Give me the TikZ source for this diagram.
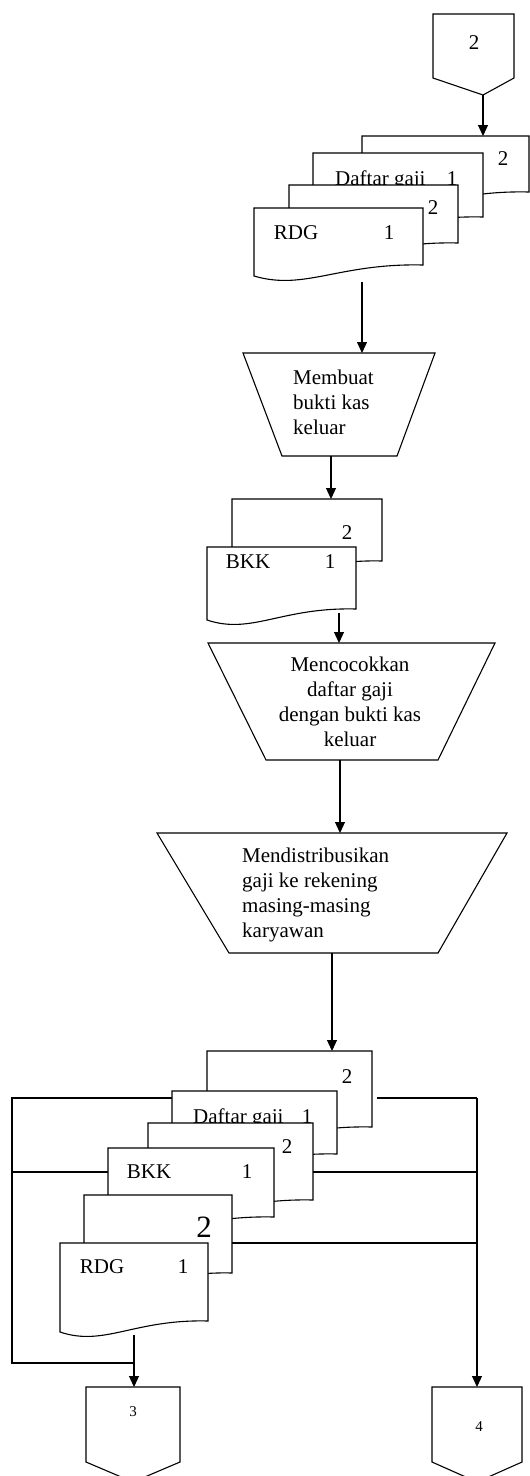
\documentclass[tikz,border=0pt]{standalone}
\usepackage{fontspec}
\setmainfont{Liberation Serif}
\usetikzlibrary{calc,arrows.meta}

\tikzset{
  flowline/.style={line width=1.1pt},
  flowarrow/.style={line width=1.1pt,-{Triangle[length=11pt,width=10pt]}},
  frame/.style={rectangle, inner sep=0pt, outer sep=0pt, draw=none},
  outline/.style={line width=1.1pt, fill=white, draw=black, line join=miter},
  txt/.style={inner sep=0pt, font=\fontsize{21}{25}\selectfont},
  bigtxt/.style={inner sep=0pt, font=\fontsize{31}{36}\selectfont},
  smalltxt/.style={inner sep=0pt, font=\fontsize{15}{18}\selectfont},
}

% document sheet with a wavy lower edge: name, left, top, width, height
\newcommand\docsheet[5]{%
  \node[frame, minimum width=#4pt, minimum height=#5pt, anchor=north west] (#1) at (#2,#3) {};
  \filldraw[outline] (#1.north west) -- (#1.north east) -- (#1.south east)
    .. controls ($(#1.south east)+(-0.5*#4,-2)$) and ($(#1.south west)+(0.3*#4,26)$)
    .. ($(#1.south west)+(0,11)$) -- cycle;
}

% manual operation (trapezium, wide side up): name, centre x, top, top width, height, left inset, right inset
\newcommand\manualop[7]{%
  \node[frame, minimum width=#4pt, minimum height=#5pt, anchor=north] (#1) at (#2,#3) {};
  \filldraw[outline] (#1.north west) -- (#1.north east) -- ($(#1.south east)+(-#7,0)$)
    -- ($(#1.south west)+(#6,0)$) -- cycle;
}

% off-page connector: name, left, top, width, side height, tip offset x, tip depth
\newcommand\offpage[7]{%
  \node[frame, minimum width=#4pt, minimum height=#5pt, anchor=north west] (#1) at (#2,#3) {};
  \coordinate (#1tip) at ($(#1.south)+(#6,#7)$);
  \filldraw[outline] (#1.south west) -- (#1.north west) -- (#1.north east) -- (#1.south east)
    -- (#1tip) -- cycle;
}

\begin{document}
\begin{tikzpicture}[x=1pt,y=-1pt]
\clip (0,0) rectangle (530,1476);
\fill[white] (0,0) rectangle (530,1476);

% incoming connector
\offpage{cin}{433}{14}{81}{64}{9.5}{17}
\node[txt] (cinlbl) at (474,43) {2};

% first stack: daftar gaji and RDG
\docsheet{docA}{362}{136}{167}{56}
\node[txt] (docAlbl) at (503,159) {2};
\docsheet{docB}{313}{153}{170}{64}
\node[txt, anchor=base west] (docBlbl) at (335,185) {Daftar gaji};
\node[txt, anchor=base] (docBnum) at (452,185) {1};
\docsheet{docC}{289}{185}{169}{58}
\node[txt] (docClbl) at (433,208) {2};
\docsheet{docD}{254}{208}{169}{57}
\node[txt] (docDlbl) at (296,233) {RDG};
\node[txt] (docDnum) at (389,233) {1};

\draw[flowarrow] (cintip) -- (cintip |- docA.north);

% make cash voucher
\manualop{opA}{339}{353}{192}{103}{39}{38}
\node[txt, anchor=west, align=left] (opAtxt) at (293,402) {Membuat\\bukti kas\\keluar};
\coordinate (jA) at (362,282);
\draw[flowarrow] (jA) -- (jA |- opA.north);

% BKK stack
\docsheet{docE}{232}{499}{150}{62}
\node[txt] (docElbl) at (347,533) {2};
\docsheet{docF}{207}{547}{149}{62}
\node[txt] (docFlbl) at (248,562) {BKK};
\node[txt] (docFnum) at (330,562) {1};
\coordinate (jB) at (331,0);
\draw[flowarrow] (opA.south -| jB) -- (docE.north -| jB);

% match payroll with voucher
\manualop{opB}{351.5}{643}{287}{117}{58}{57}
\node[txt, align=center] (opBtxt) at (350,702) {Mencocokkan\\daftar gaji\\dengan bukti kas\\keluar};
\coordinate (jC) at (339,613);
\draw[flowarrow] (jC) -- (jC |- opB.north);

% distribute salaries
\manualop{opC}{332}{833}{350}{120}{72}{69}
\node[txt, anchor=west, align=left] (opCtxt) at (242,895) {Mendistribusikan\\gaji ke rekening\\masing-masing\\karyawan};
\coordinate (jD) at (340,0);
\draw[flowarrow] (opB.south -| jD) -- (opC.north -| jD);

% final stack
\docsheet{docG}{207}{1051}{165}{76}
\node[txt] (docGlbl) at (347,1077) {2};
\docsheet{docH}{172}{1091}{165}{63}
\node[txt, anchor=base west] (docHlbl) at (193,1123) {Daftar gaji};
\node[txt, anchor=base] (docHnum) at (307,1123) {1};
\docsheet{docI}{148}{1123}{165}{77}
\node[txt] (docIlbl) at (287,1147) {2};
\docsheet{docJ}{108}{1148}{166}{69}
\node[txt] (docJlbl) at (149,1172) {BKK};
\node[txt] (docJnum) at (247,1172) {1};
\docsheet{docK}{84}{1195}{148}{78}
\node[bigtxt] (docKlbl) at (204,1227) {2};
\docsheet{docL}{60}{1243}{148}{78}
\node[txt] (docLlbl) at (102,1267) {RDG};
\node[txt] (docLnum) at (183,1267) {1};

\coordinate (jE) at (332,0);
\draw[flowarrow] (opC.south -| jE) -- (docG.north -| jE);

% outgoing connectors
\offpage{cthree}{86}{1387}{94}{75}{0}{20}
\node[smalltxt] (cthreelbl) at (133,1412) {3};
\offpage{cfour}{432}{1387}{90}{75}{0}{20}
\node[smalltxt] (cfourlbl) at (479,1427) {4};

% copies 1 go to connector 3
\coordinate (jF) at (134,1335);
\coordinate (jG) at (134,1363);
\draw[flowarrow] (jF) -- (jF |- cthree.north);
\draw[flowline] ($(docH.north west)+(0,7)$) -- (12,1098) -- (12,1363) -- (jG);
\draw[flowline] ($(docJ.north west)+(0,24)$) -- (12,1172);

% copies 2 go to connector 4
\coordinate (jH) at (477,1098);
\draw[flowline] ($(docG.north east)+(5,47)$) -- (jH);
\draw[flowarrow] (jH) -- (jH |- cfour.north);
\draw[flowline] ($(docI.north east)+(0,49)$) -- (477,1172);
\draw[flowline] ($(docK.north east)+(0,48)$) -- (477,1243);
\end{tikzpicture}
\end{document}
